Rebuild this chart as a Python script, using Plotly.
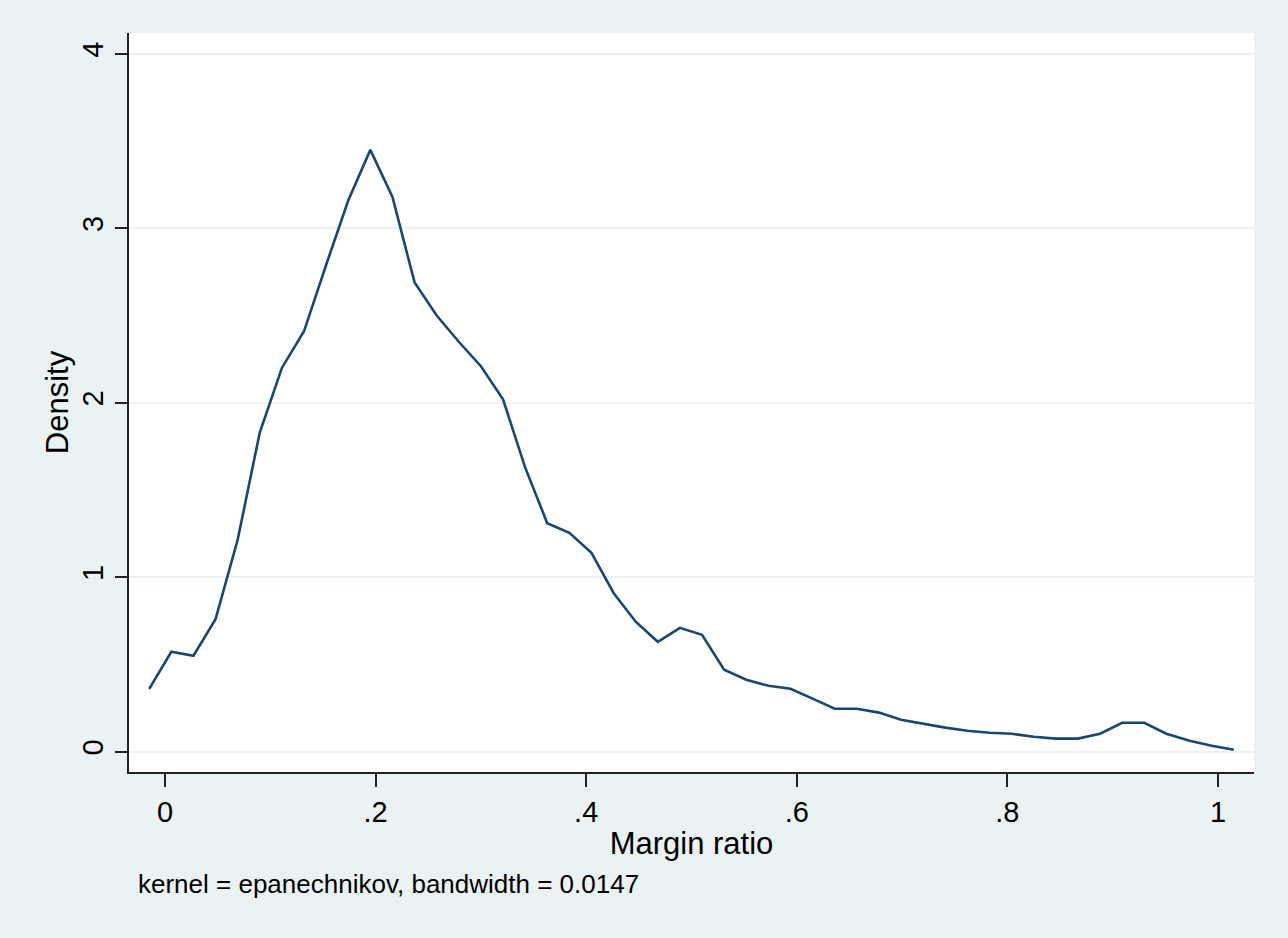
import plotly.graph_objects as go

# Kernel density estimate of margin ratio (50 evaluation points)
margin_ratio = [-0.015, 0.006, 0.027, 0.048, 0.069, 0.090, 0.111, 0.132, 0.153, 0.174,
                0.195, 0.216, 0.237, 0.258, 0.279, 0.300, 0.321, 0.342, 0.363, 0.384,
                0.405, 0.426, 0.447, 0.468, 0.489, 0.510, 0.531, 0.552, 0.573, 0.594,
                0.615, 0.636, 0.657, 0.678, 0.699, 0.720, 0.741, 0.762, 0.783, 0.804,
                0.825, 0.846, 0.867, 0.888, 0.909, 0.930, 0.951, 0.973, 0.994, 1.015]
density = [0.36, 0.573, 0.55, 0.76, 1.215, 1.83, 2.20, 2.41, 2.79, 3.16,
           3.45, 3.18, 2.69, 2.50, 2.35, 2.21, 2.02, 1.63, 1.31, 1.255,
           1.14, 0.91, 0.745, 0.63, 0.71, 0.67, 0.47, 0.413, 0.378, 0.361,
           0.304, 0.246, 0.246, 0.224, 0.183, 0.16, 0.138, 0.12, 0.109, 0.103,
           0.086, 0.075, 0.075, 0.103, 0.166, 0.166, 0.103, 0.063, 0.034, 0.011]

x_tick_vals = [0, 0.2, 0.4, 0.6, 0.8, 1]
x_tick_text = ["0", ".2", ".4", ".6", ".8", "1"]
y_tick_vals = [0, 1, 2, 3, 4]
y_tick_text = ["0", "1", "2", "3", "4"]
note_text = "kernel = epanechnikov, bandwidth = 0.0147"

FONT = "Liberation Sans, Arial, sans-serif"
BG = "#EAF2F3"
LINE = "#1A476F"

fig = go.Figure()
fig.add_trace(go.Scatter(x=margin_ratio, y=density, mode="lines",
                         line=dict(color=LINE, width=2.6), showlegend=False,
                         hoverinfo="x+y"))

fig.update_layout(
    width=1288, height=938,
    paper_bgcolor=BG, plot_bgcolor="white",
    margin=dict(l=129, r=34, t=33, b=166),
    font=dict(family=FONT, color="black"),
    xaxis=dict(range=[-0.0342, 1.0342], tickvals=x_tick_vals, ticktext=x_tick_text,
               showgrid=False, zeroline=False, showline=True, linecolor="#222222",
               linewidth=2, ticks="outside", ticklen=13, tickwidth=2, tickcolor="#222222",
               tickfont=dict(size=29, family=FONT, color="black"),
               title=dict(text="Margin ratio", font=dict(size=31, family=FONT), standoff=6)),
    yaxis=dict(range=[-0.1164, 4.12], tickvals=y_tick_vals, ticktext=y_tick_text,
               showgrid=True, gridcolor=BG, gridwidth=2, zeroline=False,
               showline=True, linecolor="#222222", linewidth=2,
               ticks="outside", ticklen=12, tickwidth=2, tickcolor="#222222",
               tickangle=-90,
               tickfont=dict(size=29, family=FONT, color="black"),
               title=dict(text="Density", font=dict(size=31, family=FONT), standoff=0)),
    annotations=[dict(text=note_text, xref="paper", yref="paper", x=0.0062, y=-0.152,
                      xanchor="left", yanchor="middle", showarrow=False,
                      font=dict(size=26, family=FONT, color="black"))],
)

fig.write_html("out.html",
               config={"displayModeBar": False},
               post_script="document.body.style.margin='0';"
                           "document.body.style.overflow='hidden';"
                           "document.body.style.background='#EAF2F3';")
